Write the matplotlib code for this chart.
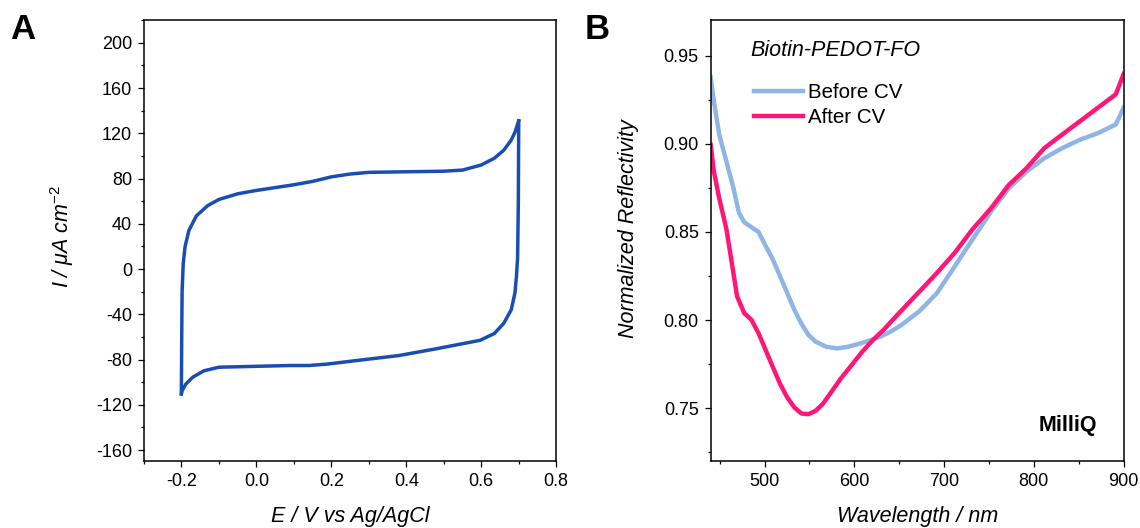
import matplotlib
matplotlib.use("Agg")
import matplotlib.pyplot as plt
from matplotlib.ticker import MultipleLocator, FormatStrFormatter

plt.rcParams["font.family"] = ["Liberation Sans", "DejaVu Sans"]
plt.rcParams["mathtext.fontset"] = "custom"
plt.rcParams["mathtext.rm"] = "Liberation Sans"
plt.rcParams["mathtext.it"] = "Liberation Sans:italic"

# panel A: cyclic voltammogram (forward and reverse branch)
cv_fwd_E = [-0.200, -0.199, -0.198, -0.195, -0.190, -0.180, -0.160, -0.130, -0.100, -0.050,
            0.000, 0.050, 0.100, 0.150, 0.200, 0.250, 0.300, 0.400, 0.500, 0.550,
            0.600, 0.635, 0.660, 0.680, 0.690, 0.700]
cv_fwd_I = [-110, -60, -20, 5, 20, 34, 47, 56, 61.5, 66.5,
            69.5, 72, 74.5, 77.5, 81.5, 84, 85.5, 86, 86.5, 87.5,
            92, 98, 105, 114, 121, 131]
cv_rev_E = [0.700, 0.699, 0.697, 0.694, 0.690, 0.680, 0.660, 0.635, 0.597, 0.550,
            0.480, 0.380, 0.290, 0.190, 0.140, 0.090, 0.000, -0.100, -0.140, -0.170,
            -0.188, -0.198, -0.200]
cv_rev_I = [131, 60, 10, -6, -21, -36, -48, -57, -63, -66,
            -70.5, -76.5, -80, -84, -85.3, -85.3, -86, -86.8, -90, -95.7,
            -101.7, -107.6, -110.6]

# panel B: reflectivity spectra
wl_before = [440, 443.6, 449.6, 457.5, 465.5, 471.4, 477.4, 485.4, 493.3, 501.3,
             509.2, 517.2, 525.2, 533.1, 541.1, 549, 557, 568.9, 580.9, 592.8,
             604.7, 616.7, 628.6, 640.5, 652.5, 672.4, 692.3, 712.2, 732, 752,
             771.9, 791.8, 811.7, 831.6, 851.5, 871.4, 891.3, 900]
refl_before = [0.9376, 0.924, 0.905, 0.890, 0.8746, 0.861, 0.8555, 0.8527, 0.850, 0.842,
               0.8345, 0.825, 0.8155, 0.806, 0.798, 0.7916, 0.7878, 0.7849, 0.784, 0.7849,
               0.7865, 0.7884, 0.7906, 0.7935, 0.7973, 0.805, 0.8155, 0.8307, 0.846, 0.8613,
               0.8746, 0.8842, 0.8918, 0.8975, 0.9023, 0.906, 0.9109, 0.9204]
wl_after = [440, 443.6, 449.6, 457.5, 463.5, 469.4, 477.4, 485.4, 493.3, 501.3,
            509.2, 517.2, 525.2, 533.1, 541.1, 549, 557, 564.9, 572.9, 584.8,
            596.8, 608.7, 620.7, 632.6, 644.5, 660.4, 676.4, 692.3, 712.2, 732,
            752, 771.9, 791.8, 811.7, 831.6, 851.5, 871.4, 891.3, 900]
refl_after = [0.8994, 0.8842, 0.8689, 0.8517, 0.8326, 0.8135, 0.804, 0.8002, 0.7926, 0.783,
              0.7735, 0.764, 0.7563, 0.7506, 0.7471, 0.7467, 0.7487, 0.7525, 0.7582, 0.7668,
              0.7744, 0.782, 0.7887, 0.7945, 0.8011, 0.8097, 0.8183, 0.8269, 0.8384, 0.8517,
              0.8632, 0.8765, 0.8861, 0.8975, 0.9052, 0.9128, 0.9204, 0.928, 0.9395]

TICK_FS = 13
LABEL_FS = 15.5


def style_axes(ax):
    for sp in ax.spines.values():
        sp.set_linewidth(1.1)
    ax.tick_params(which="major", direction="out", length=4.5, width=0.9,
                   labelsize=TICK_FS, top=False, right=False, pad=4)
    ax.tick_params(which="minor", direction="out", length=2.5, width=0.9,
                   top=False, right=False)


fig = plt.figure(figsize=(11.4, 5.28), dpi=100)

# --- panel A ---
axA = fig.add_axes([0.1262, 0.1263, 0.3617, 0.8354])
axA.plot(cv_fwd_E, cv_fwd_I, color="#1a4db3", lw=2.5, solid_joinstyle="round")
axA.plot(cv_rev_E, cv_rev_I, color="#1a4db3", lw=2.5, solid_joinstyle="round")
axA.set_xlim(-0.3, 0.8)
axA.set_ylim(-170, 220)
axA.xaxis.set_minor_locator(MultipleLocator(0.1))
axA.yaxis.set_minor_locator(MultipleLocator(20))
axA.set_xticks([-0.2, 0.0, 0.2, 0.4, 0.6, 0.8])
axA.set_xticklabels(["-0.2", "0.0", "0.2", "0.4", "0.6", "0.8"])
axA.set_yticks(list(range(-160, 201, 40)))
axA.set_yticklabels([str(v) for v in range(-160, 201, 40)])
style_axes(axA)
axA.set_xlabel("E / V vs Ag/AgCl", fontsize=LABEL_FS, style="italic", va="baseline")
axA.xaxis.set_label_coords(0.5, -0.1376)
axA.set_ylabel(r"I / $\mu$A cm$^{-2}$", fontsize=LABEL_FS, style="italic", va="baseline")
axA.yaxis.set_label_coords(-0.181, 0.51)

# --- panel B ---
axB = fig.add_axes([0.6234, 0.1263, 0.3622, 0.8354])
axB.plot(wl_before, refl_before, color="#8fb5e6", lw=3.2, label="Before CV")
axB.plot(wl_after, refl_after, color="#ff1677", lw=3.2, label="After CV")
axB.set_xlim(440, 900)
axB.set_ylim(0.72, 0.97)
axB.xaxis.set_major_locator(MultipleLocator(100))
axB.xaxis.set_minor_locator(MultipleLocator(50))
axB.yaxis.set_major_locator(MultipleLocator(0.05))
axB.yaxis.set_minor_locator(MultipleLocator(0.025))
axB.yaxis.set_major_formatter(FormatStrFormatter("%.2f"))
style_axes(axB)
axB.set_xlabel("Wavelength / nm", fontsize=LABEL_FS, style="italic", va="baseline")
axB.xaxis.set_label_coords(0.5, -0.1376)
axB.set_ylabel("Normalized Reflectivity", fontsize=LABEL_FS, style="italic", va="baseline")
axB.yaxis.set_label_coords(-0.1846, 0.527)

axB.text(0.097, 0.919, "Biotin-PEDOT-FO", transform=axB.transAxes,
         fontsize=15.5, style="italic", ha="left", va="baseline")
axB.legend(loc="upper left", bbox_to_anchor=(0.105, 0.858), frameon=False,
           fontsize=14.8, handlelength=2.4, handletextpad=0.22, labelspacing=0.31,
           borderpad=0, borderaxespad=0)
axB.text(0.935, 0.082, "MilliQ", transform=axB.transAxes, fontsize=15.5,
         weight="bold", ha="right", va="center")

fig.text(10 / 1140, 1 - 13 / 528, "A", fontsize=25, weight="bold", ha="left", va="top")
fig.text(585 / 1140, 1 - 13 / 528, "B", fontsize=25, weight="bold", ha="left", va="top")

fig.savefig("out.png", dpi=100)
